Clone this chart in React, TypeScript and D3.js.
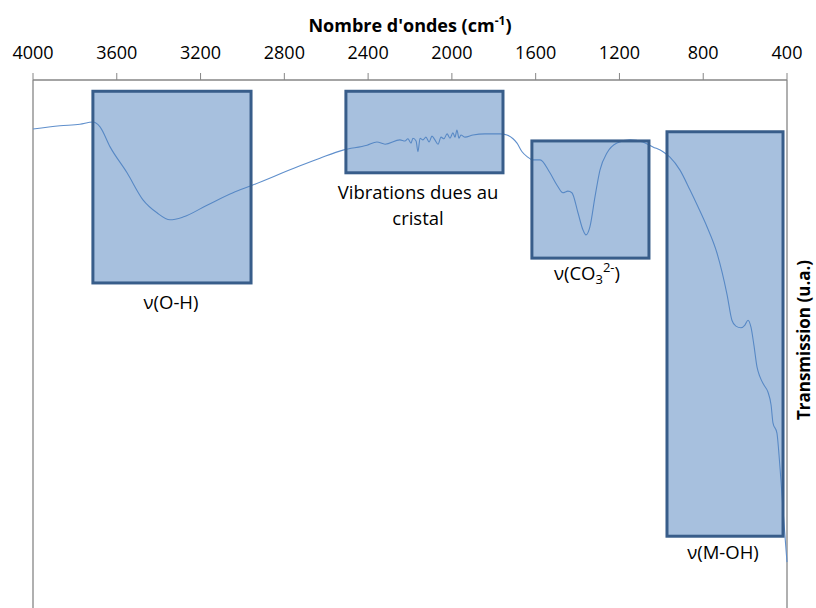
import * as d3 from 'd3'

// wavenumber (cm-1) and transmission (arbitrary units)
const wavenumbers = [
  4000, 3871, 3776, 3714, 3680, 3632, 3551, 3475, 3408, 3346, 3284, 3169, 3045, 2959, 2725, 2630,
  2520, 2405, 2358, 2319, 2248, 2224, 2210, 2195, 2186, 2171, 2162, 2152, 2138, 2124, 2109, 2095,
  2081, 2066, 2052, 2038, 2023, 2009, 1995, 1985, 1976, 1966, 1957, 1937, 1899, 1842, 1770, 1737,
  1708, 1689, 1665, 1641, 1613, 1579, 1532, 1498, 1470, 1446, 1427, 1398, 1374, 1360, 1341, 1317,
  1293, 1259, 1212, 1150, 1088, 1040, 992, 959, 911, 863, 825, 782, 734, 686, 663, 644, 620, 601,
  586, 572, 558, 543, 529, 510, 491, 476, 467, 448, 438, 429, 419, 410, 400,
]
const transmission = [
  91.1, 91.7, 92.0, 92.4, 91.5, 87.8, 83.0, 78.0, 75.6, 74.3, 74.8, 77.0, 79.3, 80.6, 84.3, 85.7,
  87.2, 88.1, 88.7, 88.3, 89.1, 88.9, 89.3, 88.5, 89.4, 88.9, 86.9, 89.4, 89.1, 89.6, 88.7, 89.8,
  89.1, 88.3, 89.6, 89.3, 90.2, 89.4, 90.4, 89.6, 90.9, 89.4, 90.0, 89.6, 90.0, 90.2, 90.2, 90.0,
  89.3, 88.5, 86.9, 86.0, 85.4, 85.4, 83.0, 80.7, 79.3, 79.6, 79.3, 75.6, 72.4, 71.5, 73.0, 78.5,
  83.5, 86.7, 88.5, 89.1, 88.7, 87.8, 86.9, 85.9, 83.5, 79.8, 76.7, 73.0, 68.1, 60.4, 55.7, 54.6,
  54.3, 54.8, 55.7, 54.4, 51.1, 47.0, 45.2, 43.7, 42.4, 40.0, 36.7, 34.8, 30.7, 26.1, 20.6, 15.9,
  10.9,
]

const xTicks = [4000, 3600, 3200, 2800, 2400, 2000, 1600, 1200, 800, 400]

// highlighted bands: wavenumber range and transmission range
const bandNames = ['OH', 'cristal', 'CO3', 'MOH']
const bandFrom = [3714, 2506, 1618, 973]
const bandTo = [2959, 1756, 1059, 419]
const bandTop = [98.1, 98.1, 88.9, 90.6]
const bandBottom = [62.6, 83.0, 67.2, 15.7]

const W = 816
const H = 608
const margin = { top: 80, right: 29, bottom: 0, left: 33 }

const font = '"Open Sans", "Noto Sans", sans-serif'

export default function App() {
  const x = d3.scaleLinear().domain([4000, 400]).range([margin.left, W - margin.right])
  const y = d3.scaleLinear().domain([0, 100]).range([621, 81])

  const points = wavenumbers.map((w, i) => [w, transmission[i]] as [number, number])
  const line = d3
    .line<[number, number]>()
    .x((d) => x(d[0]))
    .y((d) => y(d[1]))
    .curve(d3.curveMonotoneX)

  const boxes = bandNames.map((name, i) => ({
    name,
    x0: x(bandFrom[i]),
    x1: x(bandTo[i]),
    y0: y(bandTop[i]),
    y1: y(bandBottom[i]),
  }))

  const axisColor = '#868686'
  const left = x(4000)
  const right = x(400)

  return (
    <svg
      width={W}
      height={H}
      style={{ position: 'absolute', left: 0, top: 0, background: '#fff' }}
      fontFamily={font}
    >
      {/* frame */}
      <line x1={left} x2={left} y1={margin.top} y2={H} stroke={axisColor} strokeWidth={1.3} />
      <line x1={right} x2={right} y1={margin.top} y2={H} stroke={axisColor} strokeWidth={1.3} />
      <line x1={left} x2={right} y1={margin.top} y2={margin.top} stroke={axisColor} strokeWidth={1.3} />

      {xTicks.map((t) => (
        <g key={t} transform={`translate(${x(t)},0)`}>
          <line y1={margin.top} y2={margin.top - 7} stroke={axisColor} strokeWidth={1} />
          <text y={59} textAnchor="middle" fontSize={18} fill="#000">
            {t}
          </text>
        </g>
      ))}

      <text x={(left + right) / 2} y={32} textAnchor="middle" fontSize={18} fontWeight={700} fill="#000">
        Nombre d'ondes (cm
        <tspan fontSize={12} dy={-7}>-1</tspan>
        <tspan dy={7}>)</tspan>
      </text>

      <text
        transform={`translate(810,340) rotate(-90)`}
        textAnchor="middle"
        fontSize={17}
        fontWeight={700}
        fill="#000"
      >
        Transmission (u.a.)
      </text>

      <path d={line(points) ?? ''} fill="none" stroke="#5f8fcc" strokeWidth={1.1} />

      {boxes.map((b) => (
        <rect
          key={b.name}
          x={b.x0}
          y={b.y0}
          width={b.x1 - b.x0}
          height={b.y1 - b.y0}
          fill="#4f81bd"
          fillOpacity={0.5}
          stroke="#385d8a"
          strokeWidth={3}
        />
      ))}

      <g fontSize={18.5} fill="#000" textAnchor="middle">
        <text x={171} y={309}>ν(O-H)</text>
        <text x={418} y={199}>Vibrations dues au</text>
        <text x={418} y={225}>cristal</text>
        <text x={587} y={280}>
          ν(CO
          <tspan fontSize={13} dy={4}>3</tspan>
          <tspan fontSize={13} dy={-12}>2-</tspan>
          <tspan dy={8}>)</tspan>
        </text>
        <text x={723} y={559}>ν(M-OH)</text>
      </g>
    </svg>
  )
}
